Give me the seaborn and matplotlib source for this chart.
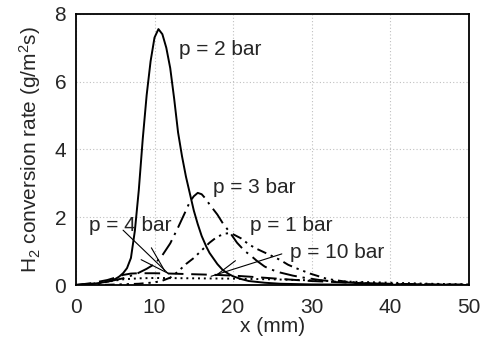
import pandas as pd
import matplotlib
matplotlib.use("Agg")
import matplotlib.pyplot as plt
import seaborn as sns

# curves, x in mm, rate in g/m2s
x_p2 = [0, 2, 4, 5, 5.5, 6, 6.5, 7, 7.5, 8, 8.5, 9, 9.5, 10, 10.5, 11, 11.5, 12, 12.5,
        13, 13.5, 14, 14.5, 15, 15.5, 16, 16.6, 17, 18, 18.7, 19.5, 20, 21, 22, 24, 26,
        30, 40, 50]
y_p2 = [0.01, 0.03, 0.1, 0.18, 0.25, 0.35, 0.5, 0.8, 1.6, 2.8, 4.3, 5.6, 6.6, 7.3, 7.55,
        7.4, 7.0, 6.4, 5.5, 4.5, 3.8, 3.2, 2.7, 2.2, 1.8, 1.45, 1.13, 0.95, 0.62, 0.44,
        0.32, 0.26, 0.18, 0.12, 0.07, 0.04, 0.02, 0.01, 0.0]

x_p3 = [0, 2, 4, 6, 7.7, 9, 10, 11, 12, 13, 14, 14.5, 15, 15.5, 16, 16.5, 17, 18, 18.7,
        19.6, 20.5, 21.5, 22.1, 23, 24, 24.7, 26, 27.6, 29, 31, 33, 36, 40, 45, 50]
y_p3 = [0.0, 0.04, 0.1, 0.2, 0.33, 0.48, 0.62, 0.88, 1.23, 1.7, 2.2, 2.46, 2.62, 2.72,
        2.68, 2.55, 2.38, 2.08, 1.82, 1.55, 1.25, 1.0, 0.9, 0.72, 0.55, 0.47, 0.37, 0.28,
        0.22, 0.15, 0.1, 0.06, 0.03, 0.015, 0.01]

x_p1 = [0, 4, 8, 10, 11, 12, 13, 14, 15, 15.8, 17, 18, 19, 19.5, 20, 21, 22, 23, 24.3,
        26, 27, 28, 29.8, 32, 34.4, 37, 40, 45, 50]
y_p1 = [0.0, 0.01, 0.04, 0.08, 0.13, 0.22, 0.4, 0.62, 0.8, 0.98, 1.25, 1.43, 1.52, 1.53,
        1.5, 1.38, 1.2, 1.07, 0.93, 0.74, 0.6, 0.5, 0.34, 0.18, 0.1, 0.06, 0.03, 0.015,
        0.01]

x_p4 = [0, 2, 4, 5, 6, 7, 8, 10, 12, 15, 18, 20, 22, 25, 28, 30, 33, 36, 40, 45, 50]
y_p4 = [0.0, 0.06, 0.15, 0.22, 0.3, 0.34, 0.35, 0.35, 0.34, 0.32, 0.3, 0.28, 0.25, 0.2,
        0.15, 0.12, 0.09, 0.06, 0.04, 0.02, 0.01]

x_p10 = [0, 2, 4, 6, 8, 10, 15, 20, 25, 30, 35, 40, 45, 50]
y_p10 = [0.0, 0.04, 0.1, 0.17, 0.2, 0.21, 0.2, 0.19, 0.17, 0.14, 0.1, 0.07, 0.04, 0.02]

sns.set_style("white")
plt.rcParams["font.family"] = ["Liberation Sans", "DejaVu Sans"]
plt.rcParams["mathtext.fontset"] = "custom"
plt.rcParams["mathtext.rm"] = "Liberation Sans"
plt.rcParams["mathtext.it"] = "Liberation Sans"

fig = plt.figure(figsize=(4.93, 3.46), dpi=100)
ax = fig.add_axes([0.154, 0.176, 0.797, 0.784])

curves = [
    (x_p2, y_p2, "-"),
    (x_p3, y_p3, (0, (9, 3, 1.2, 3))),
    (x_p1, y_p1, (0, (5, 2.5, 1.2, 2.5, 1.2, 2.5))),
    (x_p4, y_p4, (0, (8, 4))),
    (x_p10, y_p10, (0, (1, 2))),
]
for xs, ys, ls in curves:
    df = pd.DataFrame({"x": xs, "y": ys})
    sns.lineplot(data=df, x="x", y="y", ax=ax, color="black", lw=1.4,
                 linestyle=ls, estimator=None, sort=False)

ax.set_xlim(0, 50)
ax.set_ylim(0, 8)
ax.set_xticks([0, 10, 20, 30, 40, 50])
ax.set_yticks([0, 2, 4, 6, 8])
ax.grid(True, color="#c0c0c0", linestyle=(0, (1, 2)), lw=0.8)
for s in ax.spines.values():
    s.set_color("black")
    s.set_linewidth(1.3)
ax.tick_params(axis="x", direction="inout", length=8, width=1.2, labelsize=15, pad=5)
ax.tick_params(axis="y", direction="out", length=5, width=1.2, labelsize=15, pad=2)
ax.set_xlabel("x (mm)", fontsize=15, labelpad=0)
ax.set_ylabel("H$_2$ conversion rate (g/m$^2$s)", fontsize=15, labelpad=8)

fs = 15
ax.text(13.1, 6.96, "p = 2 bar", fontsize=fs, va="center")
ax.text(17.4, 2.88, "p = 3 bar", fontsize=fs, va="center")
ax.text(22.1, 1.76, "p = 1 bar", fontsize=fs, va="center")
ax.text(1.7, 1.76, "p = 4 bar", fontsize=fs, va="center")
ax.text(27.2, 0.96, "p = 10 bar", fontsize=fs, va="center")

leaders = [
    ((6.0, 1.62), (11.7, 0.35)),
    ((8.3, 0.75), (11.7, 0.35)),
    ((9.6, 1.1), (11.3, 0.42)),
    ((20.3, 0.72), (17.8, 0.28)),
    ((26.2, 0.92), (17.2, 0.26)),
]
for (x0, y0), (x1, y1) in leaders:
    ax.plot([x0, x1], [y0, y1], color="black", lw=0.8)

fig.savefig("out.png", dpi=100)
